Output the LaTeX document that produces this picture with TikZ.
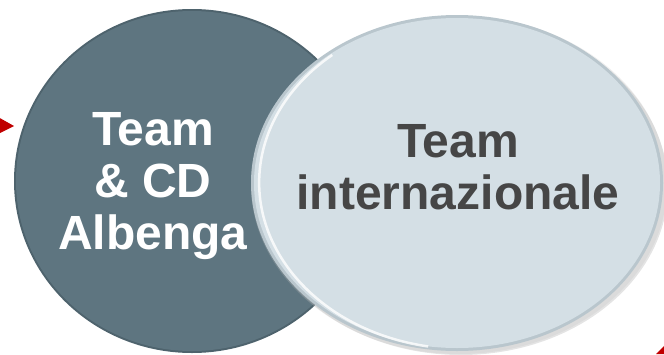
\documentclass[tikz,border=0pt]{standalone}
\usepackage{fontspec}
\setmainfont{Liberation Sans}
\usetikzlibrary{shadows,fadings}
\definecolor{slate}{HTML}{5E7580}
\definecolor{slatedark}{HTML}{4E636D}
\definecolor{pale}{HTML}{D4DFE5}
\definecolor{palerim}{HTML}{B9C6CD}
\definecolor{txtdark}{HTML}{464646}
\definecolor{redarrow}{HTML}{C00000}
\tikzset{
  lbl/.style={font=\bfseries\fontsize{48}{52}\selectfont, align=center, inner sep=0pt},
}
\begin{document}
\begin{tikzpicture}[x=1pt,y=-1pt]
\useasboundingbox (0,0) rectangle (664,354);
% left circle
\fill[slatedark] (192,181) ellipse [x radius=178, y radius=172];
\fill[slate] (192,181) ellipse [x radius=176, y radius=170];
\node (leftc) at (192,181) {};
% shadow of right circle
\fill[black!35, opacity=0.3] (461,187) ellipse [x radius=207, y radius=168];
\fill[black!25, opacity=0.25] (459,185) ellipse [x radius=208, y radius=169];
% right circle
\fill[palerim] (457,183) ellipse [x radius=206, y radius=168];
\fill[pale] (457,183) ellipse [x radius=203, y radius=165];
\draw[white, line width=2.5pt, opacity=0.8] (457,183) ++(100:166) arc[start angle=100, end angle=230, x radius=204.5, y radius=166.5];
\node (rightc) at (457,183) {};
% texts
\node[lbl, text=white] (ltxt) at (153,186) {Team\\\& CD\\Albenga};
\node[lbl, text=txtdark] (rtxt) at (458,167) {Team\\internazionale};
% red arrow
\fill[redarrow] (-2,117) -- (14,126) -- (-2,134) -- cycle;
\fill[redarrow] (664,346) -- (664,354) -- (656,354) -- cycle;
\end{tikzpicture}
\end{document}
